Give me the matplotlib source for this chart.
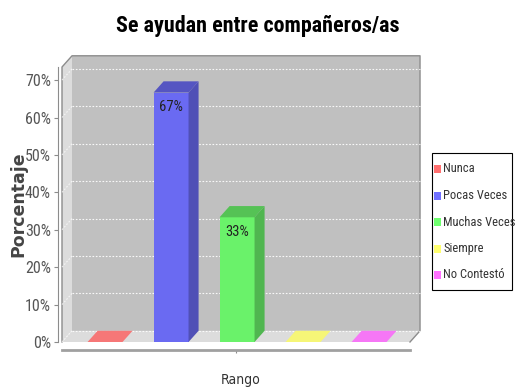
import matplotlib
matplotlib.use("Agg")
import matplotlib.pyplot as plt
from matplotlib.patches import Polygon, Rectangle
from matplotlib.colors import to_rgb

NARROW = ["Roboto Condensed", "DejaVu Sans"]

# survey answers (one category "Rango", five series)
series = ["Nunca", "Pocas Veces", "Muchas Veces", "Siempre", "No Contestó"]
values = [0.0, 66.67, 33.33, 0.0, 0.0]
labels = ["", "67%", "33%", "", ""]
colors = ["#ff5555", "#5555ff", "#55ff55", "#ffff55", "#ff55ff"]
yticks = [0, 10, 20, 30, 40, 50, 60, 70]

W, H = 515, 392
fig = plt.figure(figsize=(W / 100, H / 100), dpi=100)
fig.patch.set_facecolor("white")

# front face of the 3d plot box
ax = fig.add_axes([62 / W, (H - 342) / H, 348 / W, 275 / H])
ax.set_xlim(-0.652, 4.62)
ax.set_ylim(0, 73.5)
ax.patch.set_visible(False)

DX, DY = 0.152, 3.0     # depth of the 3d effect in data units
BW = 0.53
x0, x1 = ax.get_xlim()
ytop = ax.get_ylim()[1]


def blend(c, a=0.8, bg=(0.75, 0.75, 0.75)):
    c = to_rgb(c)
    return tuple(a * ci + (1 - a) * b for ci, b in zip(c, bg))


def darker(c, f=0.75):
    return tuple(ci * f for ci in c)


def poly(pts, **kw):
    ax.add_patch(Polygon(pts, closed=True, clip_on=False, **kw))


# walls: back, left and floor
poly([(x0 + DX, DY), (x1 + DX, DY), (x1 + DX, ytop + DY), (x0 + DX, ytop + DY)],
     facecolor="#c0c0c0", edgecolor="none", zorder=0)
poly([(x0, 0), (x0 + DX, DY), (x0 + DX, ytop + DY), (x0, ytop)],
     facecolor="#dcdcdc", edgecolor="none", zorder=0)
poly([(x0, 0), (x1, 0), (x1 + DX, DY), (x0 + DX, DY)],
     facecolor="#dcdcdc", edgecolor="none", zorder=0)
# outline of the box
ax.plot([x0, x0, x0 + DX, x1 + DX, x1 + DX, x1],
        [0, ytop, ytop + DY, ytop + DY, DY, 0],
        color="#8c8c8c", lw=1, clip_on=False, zorder=1)

# grid lines on back wall and left wall
for yv in yticks:
    ax.plot([x0 + DX, x1 + DX], [yv + DY, yv + DY], color="white", lw=0.8,
            ls=(0, (1.5, 1.5)), alpha=0.9, clip_on=False, zorder=1)
    ax.plot([x0, x0 + DX], [yv, yv + DY], color="white", lw=0.8,
            ls=(0, (1.5, 1.5)), alpha=0.7, clip_on=False, zorder=1)

# bars
for i, (v, c, lab) in enumerate(zip(values, colors, labels)):
    front = blend(c)
    l, r = i - BW / 2, i + BW / 2
    if v <= 0:
        poly([(l, 0), (r, 0), (r + DX, DY), (l + DX, DY)],
             facecolor=blend(c, 0.75, (0.86, 0.86, 0.86)), edgecolor="none", zorder=2)
        continue
    ax.add_patch(Rectangle((l, 0), BW, v, facecolor=front, edgecolor="none",
                           zorder=3, clip_on=False))
    poly([(l, v), (r, v), (r + DX, v + DY), (l + DX, v + DY)],
         facecolor=darker(front, 0.8), edgecolor="none", zorder=3)
    poly([(r, 0), (r + DX, DY), (r + DX, v + DY), (r, v)],
         facecolor=darker(front, 0.75), edgecolor="none", zorder=3)
    ax.text(l + 0.08, v - 3.8, lab, ha="left", va="center", fontsize=10.5,
            color="#222222", family=NARROW, zorder=4)

# axes
for s in ["top", "right"]:
    ax.spines[s].set_visible(False)
ax.spines["left"].set_position(("outward", 3))
ax.spines["left"].set_color("#8c8c8c")
ax.spines["bottom"].set_position(("outward", 6))
ax.spines["bottom"].set_color("#a0a0a0")
ax.spines["bottom"].set_linewidth(2)
ax.set_yticks(yticks)
ax.set_yticklabels([f"{t}%" for t in yticks], family=NARROW, fontsize=11.5,
                   color="#555555")
ax.tick_params(axis="y", length=3, color="#8c8c8c", pad=2)
ax.set_xticks([(x0 + x1) / 2])
ax.set_xticklabels([""])
ax.tick_params(axis="x", length=2, color="#8c8c8c")

ax.set_ylabel("Porcentaje", fontsize=12.5, fontweight="bold", color="#444444")
ax.yaxis.set_label_coords(-35 / 348, 0.5)
ax.set_xlabel("Rango", fontsize=10, color="#333333", family="DejaVu Sans",
              fontstretch="condensed")
ax.xaxis.set_label_coords(0.514, -31 / 275)

title = fig.text(258 / W, 1 - 26 / H, "Se ayudan entre compañeros/as", ha="center",
                 va="center", fontsize=18, fontweight="bold", family=NARROW)
# squeeze the title into the width it has in the header
r = fig.canvas.get_renderer()
tw = title.get_window_extent(r).width
title.set_fontsize(18 * min(1.0, 282 / tw))

# legend box on the right, laid out in pixels
lx0, ly0, lx1, ly1 = 432, 153, 512, 290
fig.add_artist(Rectangle((lx0 / W, 1 - ly1 / H), (lx1 - lx0) / W, (ly1 - ly0) / H,
                         transform=fig.transFigure, facecolor="white",
                         edgecolor="black", lw=0.8))
for k, (name, c) in enumerate(zip(series, colors)):
    yc = 169 + k * 26.5
    fig.add_artist(Rectangle((434 / W, 1 - (yc + 4) / H), 7 / W, 8 / H,
                             transform=fig.transFigure,
                             facecolor=blend(c, 0.85, (1, 1, 1)), edgecolor="none"))
    fig.text(443 / W, 1 - yc / H, name, ha="left", va="center", fontsize=9,
             family=NARROW, color="#333333")

fig.savefig("out.png", dpi=100)
